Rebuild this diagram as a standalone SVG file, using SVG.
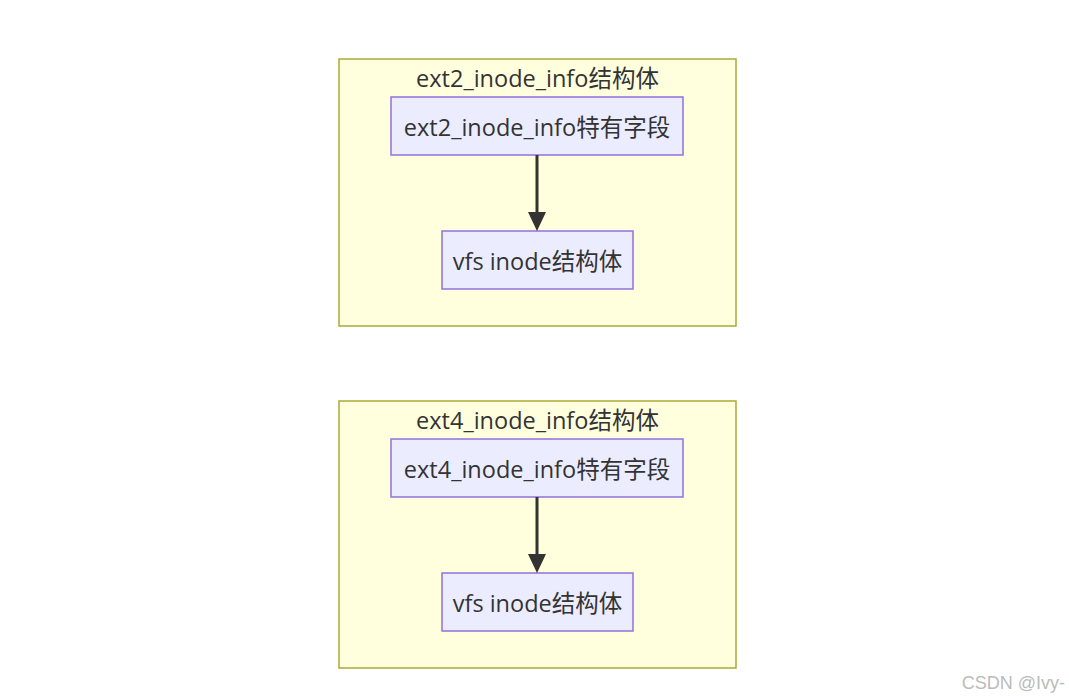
<svg xmlns="http://www.w3.org/2000/svg" width="1069" height="699" viewBox="0 0 1069 699">
<style>
.cluster{fill:#ffffde;stroke:#aaaa33;stroke-width:1.5}
.node{fill:#ececff;stroke:#9370db;stroke-width:1.5}
.t{font-family:"Open Sans","Noto Sans CJK SC",sans-serif;font-size:23.5px;fill:#333;text-anchor:middle;dominant-baseline:central}
.edge{stroke:#333;stroke-width:3;fill:none}
.wm{font-family:"Liberation Sans","Noto Sans CJK SC",sans-serif;font-size:18px;fill:#bbb;text-anchor:end}
</style>
<rect width="1069" height="699" fill="#fff"/>
<g id="cluster1">
<rect class="cluster" x="339" y="59" width="397" height="267"/>
<text class="t" x="537.5" y="78">ext2_inode_info结构体</text>
</g>
<g id="cluster2">
<rect class="cluster" x="339" y="401" width="397" height="267"/>
<text class="t" x="537.5" y="420">ext4_inode_info结构体</text>
</g>
<g id="n1">
<rect class="node" x="391" y="97" width="292" height="58"/>
<text class="t" x="537" y="127">ext2_inode_info特有字段</text>
</g>
<g id="n2">
<rect class="node" x="442" y="231" width="191" height="58"/>
<text class="t" x="537.5" y="261">vfs inode结构体</text>
</g>
<g id="n3">
<rect class="node" x="391" y="439" width="292" height="58"/>
<text class="t" x="537" y="469">ext4_inode_info特有字段</text>
</g>
<g id="n4">
<rect class="node" x="442" y="573" width="191" height="58"/>
<text class="t" x="537.5" y="603">vfs inode结构体</text>
</g>
<g id="edges">
<path class="edge" d="M537,155 L537,222"/>
<path d="M528,212 L546,212 L537,231 z" fill="#333"/>
<path class="edge" d="M537,497 L537,564"/>
<path d="M528,554 L546,554 L537,573 z" fill="#333"/>
</g>
<text class="wm" x="1065" y="689">CSDN @Ivy-</text>
</svg>
